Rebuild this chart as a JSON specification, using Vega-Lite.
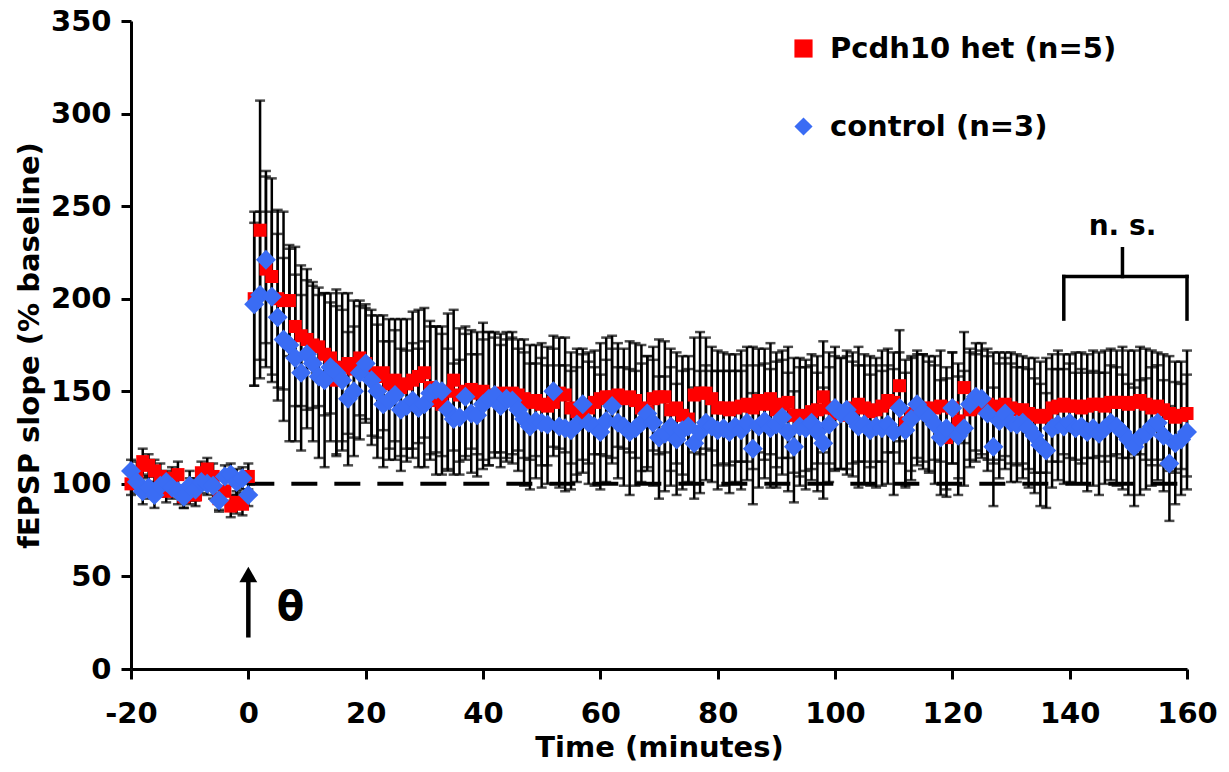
{
  "$schema": "https://vega.github.io/schema/vega-lite/v6.json",
  "width": 1056,
  "height": 648,
  "autosize": "none",
  "padding": {"left": 131, "top": 21, "right": 42, "bottom": 103},
  "background": "white",
  "config": {
    "font": "DejaVu Sans",
    "view": {"stroke": null},
    "axis": {
      "grid": false,
      "domainColor": "black",
      "domainWidth": 3,
      "tickColor": "black",
      "tickWidth": 3,
      "tickSize": 10,
      "labelFlush": false,
      "labelFont": "DejaVu Sans",
      "labelFontWeight": "bold",
      "labelFontSize": 29,
      "labelColor": "black",
      "titleFont": "DejaVu Sans",
      "titleFontWeight": "bold",
      "titleFontSize": 29,
      "titleColor": "black"
    }
  },
  "datasets": {
    "het": [
      {"t":-20,"v":100,"e":6},{"t":-19,"v":106,"e":6},{"t":-18,"v":112,"e":7},{"t":-17,"v":110,"e":6},{"t":-16,"v":107,"e":6},{"t":-15,"v":104,"e":7},{"t":-14,"v":96,"e":6},{"t":-13,"v":103,"e":6},{"t":-12,"v":105,"e":7},{"t":-11,"v":93,"e":6},{"t":-10,"v":96,"e":7},{"t":-9,"v":94,"e":6},{"t":-8,"v":106,"e":6},{"t":-7,"v":108,"e":6},{"t":-6,"v":104,"e":7},{"t":-5,"v":92,"e":6},{"t":-4,"v":96,"e":6},{"t":-3,"v":88,"e":6},{"t":-2,"v":90,"e":6},{"t":-1,"v":89,"e":6},{"t":0,"v":104,"e":7},
      {"t":1,"v":200,"e":47},{"t":2,"v":237,"e":70},{"t":3,"v":216,"e":53},{"t":4,"v":212,"e":53},{"t":5,"v":200,"e":48},{"t":6,"v":199,"e":48},{"t":7,"v":199,"e":30},{"t":8,"v":185,"e":43},{"t":9,"v":180,"e":38},{"t":10,"v":178,"e":38},
      {"t":11,"v":175,"e":34},{"t":12,"v":174,"e":32},{"t":13,"v":170,"e":33},{"t":14,"v":168,"e":30},{"t":15,"v":156,"e":40},{"t":16,"v":163,"e":40},{"t":17,"v":165,"e":38},{"t":18,"v":162,"e":37},{"t":19,"v":168,"e":31},{"t":20,"v":165,"e":30},
      {"t":21,"v":160,"e":34},{"t":22,"v":158,"e":33},{"t":23,"v":160,"e":31},{"t":24,"v":154,"e":35},{"t":25,"v":156,"e":33},{"t":26,"v":152,"e":37},{"t":27,"v":154,"e":35},{"t":28,"v":156,"e":37},{"t":29,"v":158,"e":36},{"t":30,"v":160,"e":35},
      {"t":31,"v":152,"e":36},{"t":32,"v":145,"e":40},{"t":33,"v":143,"e":38},{"t":34,"v":150,"e":42},{"t":35,"v":156,"e":38},{"t":36,"v":148,"e":36},{"t":37,"v":150,"e":35},{"t":38,"v":151,"e":32},{"t":39,"v":149,"e":33},{"t":40,"v":150,"e":37},
      {"t":41,"v":146,"e":36},{"t":42,"v":148,"e":34},{"t":43,"v":149,"e":32},{"t":44,"v":147,"e":35},{"t":45,"v":149,"e":33},{"t":46,"v":148,"e":30},{"t":47,"v":146,"e":32},{"t":48,"v":144,"e":31},{"t":49,"v":145,"e":30},{"t":50,"v":143,"e":33},
      {"t":51,"v":142,"e":32},{"t":52,"v":144,"e":29},{"t":53,"v":149,"e":30},{"t":54,"v":148,"e":31},{"t":55,"v":141,"e":30},{"t":56,"v":139,"e":34},{"t":57,"v":138,"e":32},{"t":58,"v":141,"e":30},{"t":59,"v":144,"e":28},{"t":60,"v":146,"e":30},
      {"t":61,"v":147,"e":32},{"t":62,"v":147,"e":33},{"t":63,"v":148,"e":28},{"t":64,"v":146,"e":27},{"t":65,"v":147,"e":30},{"t":66,"v":145,"e":31},{"t":67,"v":141,"e":34},{"t":68,"v":139,"e":30},{"t":69,"v":146,"e":28},{"t":70,"v":147,"e":31},
      {"t":71,"v":147,"e":30},{"t":72,"v":140,"e":33},{"t":73,"v":141,"e":30},{"t":74,"v":137,"e":32},{"t":75,"v":135,"e":34},{"t":76,"v":148,"e":31},{"t":77,"v":149,"e":33},{"t":78,"v":149,"e":30},{"t":79,"v":146,"e":28},{"t":80,"v":141,"e":31},
      {"t":81,"v":141,"e":30},{"t":82,"v":140,"e":30},{"t":83,"v":141,"e":29},{"t":84,"v":142,"e":30},{"t":85,"v":143,"e":31},{"t":86,"v":141,"e":33},{"t":87,"v":145,"e":28},{"t":88,"v":143,"e":30},{"t":89,"v":146,"e":30},{"t":90,"v":140,"e":31},
      {"t":91,"v":143,"e":29},{"t":92,"v":144,"e":30},{"t":93,"v":137,"e":31},{"t":94,"v":136,"e":32},{"t":95,"v":137,"e":30},{"t":96,"v":139,"e":31},{"t":97,"v":140,"e":29},{"t":98,"v":147,"e":30},{"t":99,"v":141,"e":30},{"t":100,"v":138,"e":31},
      {"t":101,"v":138,"e":30},{"t":102,"v":137,"e":32},{"t":103,"v":141,"e":30},{"t":104,"v":143,"e":31},{"t":105,"v":141,"e":29},{"t":106,"v":139,"e":30},{"t":107,"v":140,"e":28},{"t":108,"v":142,"e":30},{"t":109,"v":145,"e":28},{"t":110,"v":144,"e":27},
      {"t":111,"v":153,"e":30},{"t":112,"v":133,"e":34},{"t":113,"v":138,"e":31},{"t":114,"v":140,"e":30},{"t":115,"v":141,"e":29},{"t":116,"v":138,"e":31},{"t":117,"v":141,"e":28},{"t":118,"v":142,"e":30},{"t":119,"v":125,"e":32},{"t":120,"v":141,"e":30},
      {"t":121,"v":134,"e":31},{"t":122,"v":152,"e":30},{"t":123,"v":140,"e":31},{"t":124,"v":141,"e":29},{"t":125,"v":143,"e":29},{"t":126,"v":143,"e":30},{"t":127,"v":141,"e":30},{"t":128,"v":142,"e":29},{"t":129,"v":143,"e":28},{"t":130,"v":141,"e":30},
      {"t":131,"v":140,"e":30},{"t":132,"v":140,"e":29},{"t":133,"v":138,"e":30},{"t":134,"v":137,"e":31},{"t":135,"v":136,"e":30},{"t":136,"v":137,"e":31},{"t":137,"v":141,"e":29},{"t":138,"v":142,"e":30},{"t":139,"v":143,"e":27},{"t":140,"v":142,"e":28},
      {"t":141,"v":142,"e":29},{"t":142,"v":141,"e":30},{"t":143,"v":142,"e":28},{"t":144,"v":143,"e":29},{"t":145,"v":143,"e":28},{"t":146,"v":142,"e":30},{"t":147,"v":144,"e":29},{"t":148,"v":144,"e":28},{"t":149,"v":144,"e":30},{"t":150,"v":143,"e":29},
      {"t":151,"v":144,"e":28},{"t":152,"v":145,"e":29},{"t":153,"v":143,"e":30},{"t":154,"v":141,"e":31},{"t":155,"v":142,"e":29},{"t":156,"v":140,"e":30},{"t":157,"v":138,"e":31},{"t":158,"v":136,"e":30},{"t":159,"v":137,"e":29},{"t":160,"v":138,"e":34}
    ],
    "ctl": [
      {"t":-20,"v":107,"e":6},{"t":-19,"v":101,"e":6},{"t":-18,"v":96,"e":7},{"t":-17,"v":98,"e":6},{"t":-16,"v":94,"e":7},{"t":-15,"v":99,"e":6},{"t":-14,"v":101,"e":6},{"t":-13,"v":98,"e":6},{"t":-12,"v":96,"e":7},{"t":-11,"v":93,"e":6},{"t":-10,"v":99,"e":8},{"t":-9,"v":97,"e":6},{"t":-8,"v":101,"e":6},{"t":-7,"v":100,"e":6},{"t":-6,"v":99,"e":7},{"t":-5,"v":91,"e":6},{"t":-4,"v":104,"e":6},{"t":-3,"v":105,"e":6},{"t":-2,"v":101,"e":7},{"t":-1,"v":103,"e":6},{"t":0,"v":94,"e":6},
      {"t":1,"v":197,"e":44},{"t":2,"v":202,"e":45},{"t":3,"v":221,"e":45},{"t":4,"v":201,"e":46},{"t":5,"v":190,"e":45},{"t":6,"v":178,"e":44},{"t":7,"v":175,"e":52},{"t":8,"v":168,"e":45},{"t":9,"v":160,"e":42},{"t":10,"v":170,"e":40},
      {"t":11,"v":165,"e":42},{"t":12,"v":158,"e":44},{"t":13,"v":156,"e":47},{"t":14,"v":163,"e":40},{"t":15,"v":160,"e":45},{"t":16,"v":156,"e":38},{"t":17,"v":146,"e":36},{"t":18,"v":150,"e":35},{"t":19,"v":160,"e":36},{"t":20,"v":165,"e":32},
      {"t":21,"v":156,"e":35},{"t":22,"v":150,"e":36},{"t":23,"v":143,"e":34},{"t":24,"v":145,"e":32},{"t":25,"v":148,"e":35},{"t":26,"v":140,"e":33},{"t":27,"v":142,"e":30},{"t":28,"v":145,"e":31},{"t":29,"v":141,"e":32},{"t":30,"v":143,"e":34},
      {"t":31,"v":149,"e":36},{"t":32,"v":151,"e":34},{"t":33,"v":150,"e":35},{"t":34,"v":140,"e":33},{"t":35,"v":135,"e":30},{"t":36,"v":136,"e":31},{"t":37,"v":147,"e":34},{"t":38,"v":138,"e":32},{"t":39,"v":137,"e":33},{"t":40,"v":143,"e":35},
      {"t":41,"v":146,"e":36},{"t":42,"v":148,"e":31},{"t":43,"v":142,"e":33},{"t":44,"v":146,"e":32},{"t":45,"v":145,"e":34},{"t":46,"v":140,"e":33},{"t":47,"v":135,"e":36},{"t":48,"v":131,"e":34},{"t":49,"v":134,"e":31},{"t":50,"v":133,"e":35},
      {"t":51,"v":132,"e":32},{"t":52,"v":150,"e":30},{"t":53,"v":131,"e":33},{"t":54,"v":130,"e":34},{"t":55,"v":129,"e":32},{"t":56,"v":132,"e":31},{"t":57,"v":143,"e":30},{"t":58,"v":133,"e":33},{"t":59,"v":131,"e":32},{"t":60,"v":128,"e":31},
      {"t":61,"v":134,"e":33},{"t":62,"v":142,"e":31},{"t":63,"v":133,"e":30},{"t":64,"v":131,"e":32},{"t":65,"v":128,"e":34},{"t":66,"v":130,"e":31},{"t":67,"v":133,"e":32},{"t":68,"v":138,"e":31},{"t":69,"v":133,"e":34},{"t":70,"v":125,"e":33},
      {"t":71,"v":127,"e":31},{"t":72,"v":131,"e":32},{"t":73,"v":124,"e":30},{"t":74,"v":129,"e":32},{"t":75,"v":131,"e":31},{"t":76,"v":122,"e":30},{"t":77,"v":128,"e":33},{"t":78,"v":133,"e":31},{"t":79,"v":131,"e":30},{"t":80,"v":129,"e":32},
      {"t":81,"v":130,"e":31},{"t":82,"v":128,"e":33},{"t":83,"v":131,"e":30},{"t":84,"v":129,"e":32},{"t":85,"v":133,"e":31},{"t":86,"v":119,"e":30},{"t":87,"v":131,"e":33},{"t":88,"v":134,"e":31},{"t":89,"v":130,"e":32},{"t":90,"v":132,"e":34},
      {"t":91,"v":136,"e":31},{"t":92,"v":128,"e":32},{"t":93,"v":120,"e":30},{"t":94,"v":131,"e":32},{"t":95,"v":130,"e":33},{"t":96,"v":133,"e":31},{"t":97,"v":128,"e":32},{"t":98,"v":122,"e":30},{"t":99,"v":132,"e":31},{"t":100,"v":141,"e":33},
      {"t":101,"v":138,"e":30},{"t":102,"v":140,"e":32},{"t":103,"v":135,"e":31},{"t":104,"v":131,"e":33},{"t":105,"v":132,"e":32},{"t":106,"v":129,"e":30},{"t":107,"v":131,"e":33},{"t":108,"v":130,"e":31},{"t":109,"v":132,"e":32},{"t":110,"v":128,"e":34},
      {"t":111,"v":141,"e":30},{"t":112,"v":129,"e":31},{"t":113,"v":135,"e":33},{"t":114,"v":143,"e":29},{"t":115,"v":139,"e":31},{"t":116,"v":136,"e":30},{"t":117,"v":132,"e":32},{"t":118,"v":125,"e":31},{"t":119,"v":130,"e":33},{"t":120,"v":141,"e":30},
      {"t":121,"v":126,"e":32},{"t":122,"v":130,"e":31},{"t":123,"v":143,"e":30},{"t":124,"v":147,"e":29},{"t":125,"v":146,"e":30},{"t":126,"v":138,"e":31},{"t":127,"v":120,"e":32},{"t":128,"v":134,"e":31},{"t":129,"v":138,"e":30},{"t":130,"v":133,"e":32},
      {"t":131,"v":132,"e":31},{"t":132,"v":133,"e":30},{"t":133,"v":130,"e":32},{"t":134,"v":126,"e":31},{"t":135,"v":121,"e":33},{"t":136,"v":118,"e":31},{"t":137,"v":130,"e":32},{"t":138,"v":132,"e":30},{"t":139,"v":131,"e":31},{"t":140,"v":133,"e":32},
      {"t":141,"v":130,"e":30},{"t":142,"v":131,"e":31},{"t":143,"v":128,"e":32},{"t":144,"v":130,"e":31},{"t":145,"v":127,"e":33},{"t":146,"v":130,"e":30},{"t":147,"v":133,"e":31},{"t":148,"v":131,"e":32},{"t":149,"v":128,"e":31},{"t":150,"v":124,"e":30},
      {"t":151,"v":120,"e":32},{"t":152,"v":125,"e":31},{"t":153,"v":127,"e":30},{"t":154,"v":131,"e":32},{"t":155,"v":133,"e":31},{"t":156,"v":126,"e":30},{"t":157,"v":111,"e":31},{"t":158,"v":122,"e":33},{"t":159,"v":124,"e":30},{"t":160,"v":128,"e":31}
    ]
  },
  "layer": [
    {
      "data": {"values": [{"x": 0, "x2": 160, "y": 100}]},
      "mark": {"type": "rule", "color": "black", "strokeWidth": 4, "strokeDash": [26, 17]},
      "encoding": {
        "x": {"field": "x", "type": "quantitative", "title": "Time (minutes)", "scale": {"domain": [-20, 160], "nice": false, "zero": false},
              "axis": {"values": [-20, 0, 20, 40, 60, 80, 100, 120, 140, 160], "labelExpr": "'' + datum.value", "labelPadding": 20, "titlePadding": 5}},
        "x2": {"field": "x2"},
        "y": {"field": "y", "type": "quantitative", "title": "fEPSP slope (% baseline)", "scale": {"domain": [0, 350], "nice": false},
              "axis": {"values": [0, 50, 100, 150, 200, 250, 300, 350], "labelPadding": 10, "titlePadding": 6}}
      }
    },
    {
      "data": {"name": "het"},
      "mark": {"type": "errorbar", "color": "black", "thickness": 2.5, "ticks": {"size": 10, "thickness": 2.5, "color": "black"}},
      "encoding": {
        "x": {"field": "t", "type": "quantitative", "title": "Time (minutes)"},
        "y": {"field": "v", "type": "quantitative", "title": "fEPSP slope (% baseline)"},
        "yError": {"field": "e"}
      }
    },
    {
      "data": {"name": "ctl"},
      "mark": {"type": "errorbar", "color": "black", "thickness": 2.5, "ticks": {"size": 10, "thickness": 2.5, "color": "black"}},
      "encoding": {
        "x": {"field": "t", "type": "quantitative", "title": "Time (minutes)"},
        "y": {"field": "v", "type": "quantitative", "title": "fEPSP slope (% baseline)"},
        "yError": {"field": "e"}
      }
    },
    {
      "data": {"name": "het"},
      "mark": {"type": "point", "filled": true, "opacity": 1, "size": 170, "strokeWidth": 0},
      "encoding": {
        "x": {"field": "t", "type": "quantitative", "title": "Time (minutes)"},
        "y": {"field": "v", "type": "quantitative", "title": "fEPSP slope (% baseline)"},
        "color": {"datum": "Pcdh10 het (n=5)", "type": "nominal",
                  "scale": {"domain": ["Pcdh10 het (n=5)", "control (n=3)"], "range": ["#ff0000", "#3a6cf4"]},
                  "legend": {"title": null, "orient": "none", "legendX": 658, "legendY": 13,
                             "labelFont": "DejaVu Sans", "labelFontWeight": "bold", "labelFontSize": 29, "labelColor": "black", "labelLimit": 500,
                             "symbolSize": 330, "symbolStrokeWidth": 0, "rowPadding": 48, "labelOffset": 12, "symbolOpacity": 1}},
        "shape": {"datum": "Pcdh10 het (n=5)", "type": "nominal",
                  "scale": {"domain": ["Pcdh10 het (n=5)", "control (n=3)"], "range": ["square", "diamond"]},
                  "legend": {"title": null, "orient": "none", "legendX": 658, "legendY": 13,
                             "labelFont": "DejaVu Sans", "labelFontWeight": "bold", "labelFontSize": 29, "labelColor": "black", "labelLimit": 500,
                             "symbolSize": 330, "symbolStrokeWidth": 0, "rowPadding": 48, "labelOffset": 12, "symbolOpacity": 1}}
      }
    },
    {
      "data": {"name": "ctl"},
      "mark": {"type": "point", "filled": true, "opacity": 1, "size": 400, "strokeWidth": 0},
      "encoding": {
        "x": {"field": "t", "type": "quantitative", "title": "Time (minutes)"},
        "y": {"field": "v", "type": "quantitative", "title": "fEPSP slope (% baseline)"},
        "color": {"datum": "control (n=3)", "type": "nominal"},
        "shape": {"datum": "control (n=3)", "type": "nominal"}
      }
    },
    {
      "data": {"values": [
        {"x": 139, "x2": 160, "y": 212, "y2": 212},
        {"x": 139, "x2": 139, "y": 189, "y2": 212},
        {"x": 160, "x2": 160, "y": 189, "y2": 212},
        {"x": 149, "x2": 149, "y": 212, "y2": 227}
      ]},
      "mark": {"type": "rule", "color": "black", "strokeWidth": 3.5, "strokeCap": "square"},
      "encoding": {
        "x": {"field": "x", "type": "quantitative", "title": "Time (minutes)"},
        "x2": {"field": "x2"},
        "y": {"field": "y", "type": "quantitative", "title": "fEPSP slope (% baseline)"},
        "y2": {"field": "y2"}
      }
    },
    {
      "data": {"values": [{"x": 149, "y": 239, "label": "n. s."}]},
      "mark": {"type": "text", "font": "DejaVu Sans", "fontWeight": "bold", "fontSize": 28, "color": "black", "align": "center", "baseline": "middle"},
      "encoding": {
        "x": {"field": "x", "type": "quantitative", "title": "Time (minutes)"},
        "y": {"field": "y", "type": "quantitative", "title": "fEPSP slope (% baseline)"},
        "text": {"field": "label"}
      }
    },
    {
      "data": {"values": [{"x": 0, "y": 17, "y2": 48}]},
      "mark": {"type": "rule", "color": "black", "strokeWidth": 4.5},
      "encoding": {
        "x": {"field": "x", "type": "quantitative", "title": "Time (minutes)"},
        "y": {"field": "y", "type": "quantitative", "title": "fEPSP slope (% baseline)"},
        "y2": {"field": "y2"}
      }
    },
    {
      "data": {"values": [{"x": 0, "y": 51}]},
      "mark": {"type": "point", "shape": "triangle-up", "filled": true, "opacity": 1, "color": "black", "size": 320},
      "encoding": {
        "x": {"field": "x", "type": "quantitative", "title": "Time (minutes)"},
        "y": {"field": "y", "type": "quantitative", "title": "fEPSP slope (% baseline)"}
      }
    },
    {
      "data": {"values": [{"x": 7.2, "y": 33, "label": "θ"}]},
      "mark": {"type": "text", "font": "DejaVu Sans", "fontWeight": "bold", "fontSize": 40, "color": "black", "align": "center", "baseline": "middle"},
      "encoding": {
        "x": {"field": "x", "type": "quantitative", "title": "Time (minutes)"},
        "y": {"field": "y", "type": "quantitative", "title": "fEPSP slope (% baseline)"},
        "text": {"field": "label"}
      }
    }
  ]
}
